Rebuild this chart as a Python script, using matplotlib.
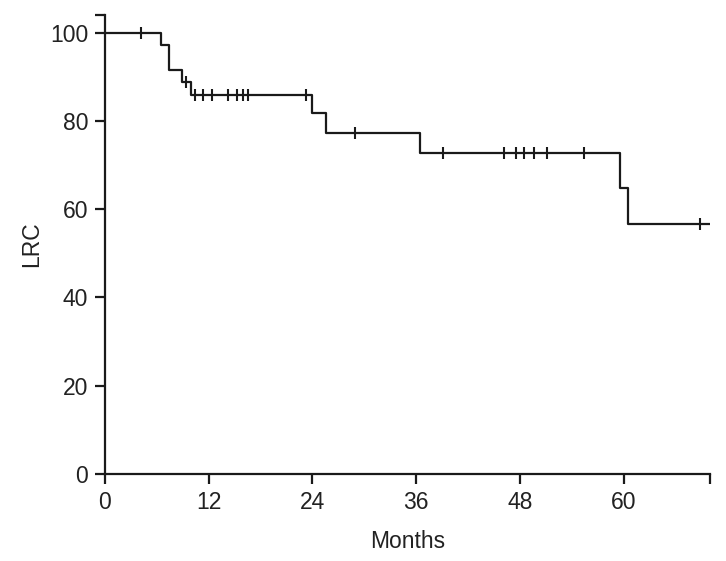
import numpy as np
import matplotlib
matplotlib.use('Agg')
from matplotlib import pyplot as plt

plt.rcParams['font.family'] = ['Liberation Sans', 'DejaVu Sans']

# event times (months) and survival (%) right after each drop
event_times = [6.45, 7.4, 8.93, 9.9, 23.98, 25.6, 36.4, 59.6, 60.56]
event_lrc = [97.3, 91.5, 88.8, 85.8, 81.7, 77.2, 72.7, 64.7, 56.6]
censor_times = [4.13, 9.4, 10.44, 11.33, 12.37, 14.22, 15.27, 15.92, 16.55,
                23.3, 28.9, 39.06, 46.17, 47.53, 48.46, 49.69, 51.13, 55.45, 68.8]
last_followup = 69.9

x_ticks = [0, 12, 24, 36, 48, 60, 70]
x_labels = ['0', '12', '24', '36', '48', '60', '']
y_ticks = [0, 20, 40, 60, 80, 100, 104]
y_labels = ['0', '20', '40', '60', '80', '100', '']

t = np.array([0] + event_times + [last_followup])
s = np.array([100] + event_lrc + [event_lrc[-1]])

def lrc_at(x):
    idx = np.searchsorted(t, x, side='right') - 1
    return s[idx]

fig = plt.figure(figsize=(7.26, 5.61), dpi=100)
ax = fig.add_axes([0.1446, 0.1551, 0.978 - 0.1446, 0.9733 - 0.1551])

ax.step(t, s, where='post', color='#1a1a1a', lw=1.6)
ax.plot(censor_times, [lrc_at(c) for c in censor_times], ls='none', marker='|',
        ms=9, mew=1.5, color='#1a1a1a')

ax.set_xlim(0, 70)
ax.set_ylim(0, 104)
ax.set_xticks(x_ticks)
ax.set_xticklabels(x_labels)
ax.set_yticks(y_ticks)
ax.set_yticklabels(y_labels)

for side in ['top', 'right']:
    ax.spines[side].set_visible(False)
for side in ['left', 'bottom']:
    ax.spines[side].set_linewidth(1.6)
    ax.spines[side].set_color('#1a1a1a')
ax.tick_params(direction='out', length=7, width=1.6, color='#1a1a1a',
               labelsize=16.5, labelcolor='#222222', pad=5)

ax.set_xlabel('Months', fontsize=16.5, color='#222222', labelpad=12)
ax.set_ylabel('LRC', fontsize=16.5, color='#222222', labelpad=5)

fig.savefig('out.png', dpi=100)
